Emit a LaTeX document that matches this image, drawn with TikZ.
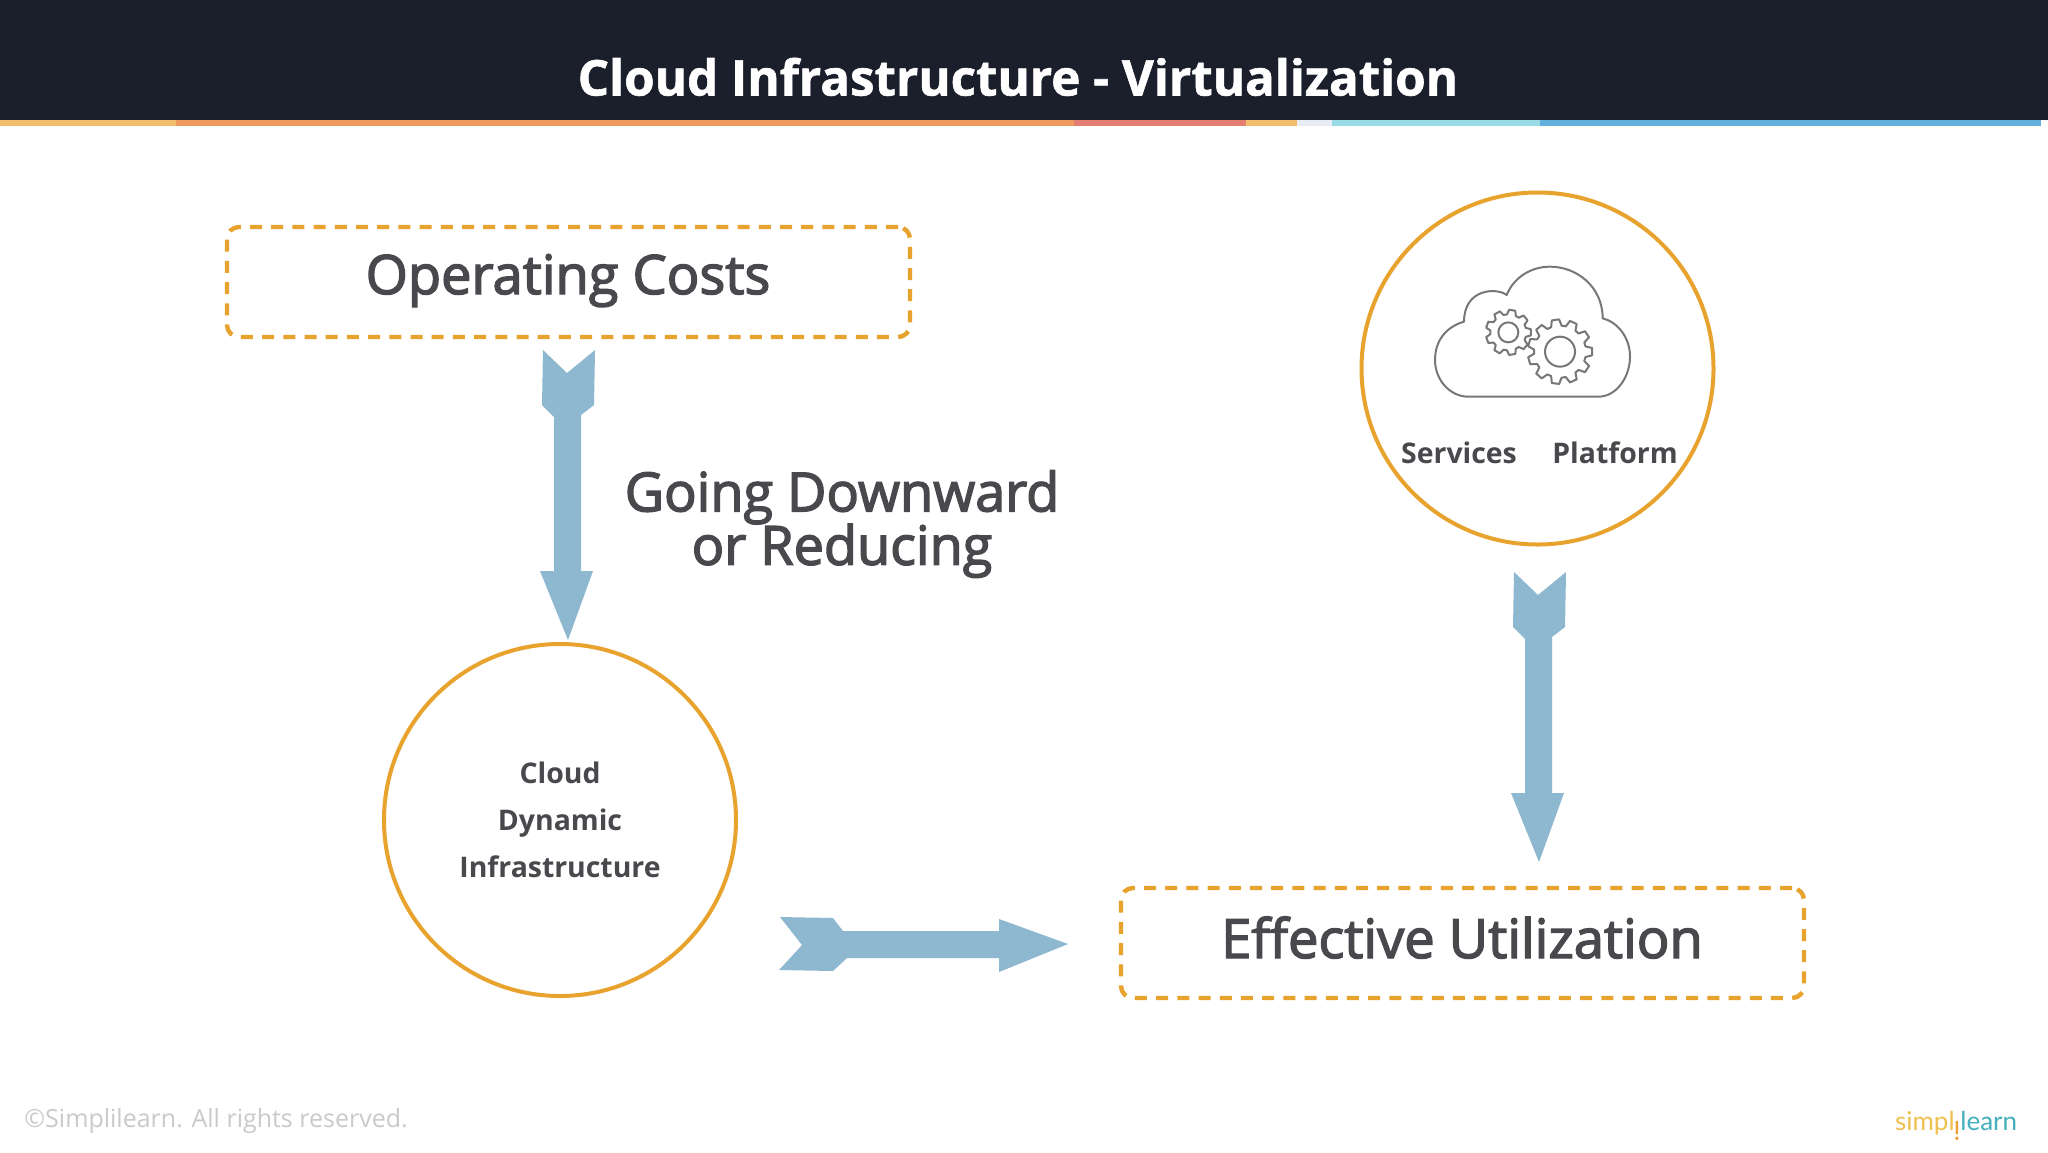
\documentclass[tikz,border=0pt]{standalone}
\usepackage{fontspec}
\setmainfont{Open Sans}
\newfontfamily\semifont[FakeBold=2.6]{Open Sans}
\newfontfamily\titlefont[BoldFeatures={FakeBold=1.2}]{Open Sans}
\newfontfamily\logofont{Lato}
\definecolor{barbg}{HTML}{1B1F2B}
\definecolor{ink}{HTML}{48484D}
\definecolor{ring}{HTML}{E8A32E}
\definecolor{arrowblue}{HTML}{8DB8CF}
\definecolor{cloudline}{HTML}{77777B}
\definecolor{footgrey}{HTML}{C9C9CE}
\definecolor{stripA}{HTML}{F4BE6F}
\definecolor{stripB}{HTML}{EE9A5F}
\definecolor{stripC}{HTML}{E37D6F}
\definecolor{stripD}{HTML}{E8ECF4}
\definecolor{stripE}{HTML}{9ADCE6}
\definecolor{stripF}{HTML}{62AEDD}
\definecolor{logoy}{HTML}{EFC04F}
\definecolor{logoo}{HTML}{EE9F2D}
\definecolor{logot}{HTML}{45AEBF}
\tikzset{
  x=0.5pt,y=-0.5pt,
  dashbox/.style={draw=ring,line width=2.2pt,rounded corners=6pt,dash pattern=on 6pt off 4.6pt,minimum width=341.5pt,minimum height=55pt,inner sep=0pt},
  ringnode/.style={circle,draw=ring,line width=2pt,minimum size=176pt,inner sep=0pt},
  blockarrow/.style={fill=arrowblue,draw=none},
  bigtext/.style={font=\semifont\fontsize{27.1}{32}\selectfont,text=ink,inner sep=0pt,anchor=base},
  smalltext/.style={font=\fontsize{14.2}{23.5}\selectfont\bfseries,text=ink,inner sep=0pt,align=center},
  cloudstroke/.style={draw=cloudline,line width=1pt,line join=round},
  logotext/.style={font=\logofont\fontsize{13}{16}\selectfont,inner sep=0pt},
}
\newcommand{\gearpath}[5]{% cx cy router rroot teeth
  \draw[cloudstroke,fill=white] ({#1+#4*cos(-0.36*360/#5)},{#2+#4*sin(-0.36*360/#5)})
    \foreach \k in {1,...,#5}{
      -- ({#1+#3*cos((\k-1.2)*360/#5)},{#2+#3*sin((\k-1.2)*360/#5)})
      -- ({#1+#3*cos((\k-0.8)*360/#5)},{#2+#3*sin((\k-0.8)*360/#5)})
      -- ({#1+#4*cos((\k-0.64)*360/#5)},{#2+#4*sin((\k-0.64)*360/#5)})
      -- ({#1+#4*cos((\k-0.36)*360/#5)},{#2+#4*sin((\k-0.36)*360/#5)})
    } -- cycle;
}
\begin{document}
\begin{tikzpicture}
\useasboundingbox (0,0) rectangle (2048,1152);
\fill[white] (0,0) rectangle (2048,1152);
\fill[barbg] (0,0) rectangle (2048,120);
\fill[stripA] (0,120) rectangle (176,126);
\fill[stripB] (176,120) rectangle (1074,126);
\fill[stripC] (1074,120) rectangle (1246,126);
\fill[stripA] (1246,120) rectangle (1297,126);
\fill[stripD] (1297,120) rectangle (1332,126);
\fill[stripE] (1332,120) rectangle (1540,126);
\fill[stripF] (1540,120) rectangle (2041,126);
\node[font=\titlefont\bfseries\fontsize{24.65}{28}\selectfont,text=white,inner sep=0pt,anchor=base] (title) at (1018,95.5) {Cloud Infrastructure - Virtualization};

\node[dashbox] (costs) at (568.5,282) {};
\node[bigtext] (costslabel) at (568,294) {Operating Costs};
\node[dashbox] (util) at (1462.5,943) {};
\node[bigtext] (utillabel) at (1462,958) {Effective Utilization};
\node[ringnode] (dyn) at (560,820) {};
\node[smalltext] (dynlabel) at (560,820) {Cloud\\Dynamic\\Infrastructure};
\node[ringnode] (svc) at (1537.5,368.5) {};
\node[font=\fontsize{14.2}{18}\selectfont\bfseries,text=ink,inner sep=0pt,anchor=base] (services) at (1459,463.5) {Services};
\node[font=\fontsize{14.2}{18}\selectfont\bfseries,text=ink,inner sep=0pt,anchor=base] (platform) at (1615,463.5) {Platform};
\node[font=\semifont\fontsize{27}{26.5}\selectfont,text=ink,inner sep=0pt,align=center] (going) at (842,524) {Going Downward\\[-1.3pt]or Reducing};

% arrows
\fill[blockarrow] (543,350) -- (567,373) -- (595,350) -- (594,405) -- (581,415) -- (581,571) -- (593,571) -- (568,640) -- (540,571) -- (554,571) -- (554,417) -- (542,405) -- cycle;
\begin{scope}[shift={(971,222)}]
\fill[blockarrow] (543,350) -- (567,373) -- (595,350) -- (594,405) -- (581,415) -- (581,571) -- (593,571) -- (568,640) -- (540,571) -- (554,571) -- (554,417) -- (542,405) -- cycle;
\end{scope}
\fill[blockarrow] (780,917) -- (802,945) -- (779,970) -- (833,971) -- (847,958) -- (999,958) -- (999,972) -- (1068,944) -- (999,919) -- (999,931) -- (843,931) -- (833,918) -- cycle;

% cloud icon
\begin{scope}[shift={(1340,180)},x=0.16667pt,y=-0.16667pt]
\draw[cloudstroke] (385,650) -- (775,650)
  .. controls (830,650) and (870,590) .. (870,530)
  .. controls (870,470) and (830,425) .. (788,415)
  .. controls (788,320) and (710,260) .. (630,260)
  .. controls (570,260) and (520,295) .. (500,345)
  .. controls (470,322) and (372,325) .. (372,425)
  .. controls (320,440) and (285,480) .. (285,540)
  .. controls (285,600) and (330,650) .. (385,650) -- cycle;
\gearpath{505}{457}{68}{54}{9}
\draw[cloudstroke] (505,457) circle (30);
\gearpath{660}{515}{97}{78}{11}
\draw[cloudstroke] (660,515) circle (45);
\end{scope}

% footer
\node[font=\fontsize{12.5}{16}\selectfont,text=footgrey,inner sep=0pt,anchor=base west] (copy) at (24,1127) {©Simplilearn. All rights reserved.};
\node[logotext,text=logoy,anchor=base east] (logoa) at (1955,1130) {simpl};
\node[logotext,text=logoo,rotate=180] (logob) at (1957,1131) {i};
\node[logotext,text=logot,anchor=base west] (logoc) at (1960,1130) {learn};
\end{tikzpicture}
\end{document}
